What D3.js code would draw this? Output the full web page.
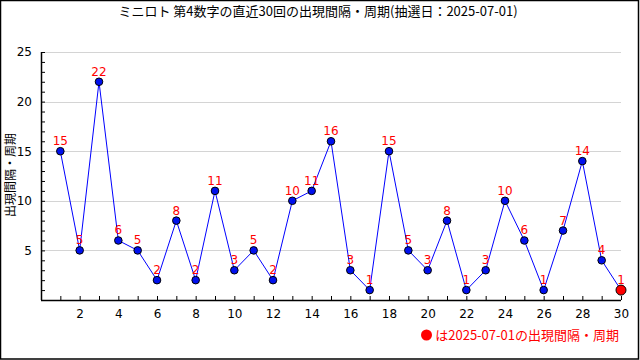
<!DOCTYPE html>
<html>
<head>
<meta charset="utf-8">
<script src="https://cdn.jsdelivr.net/npm/d3@7"></script>
<style>
body { margin: 0; background: #fff; }
#vis { width: 640px; height: 360px; }
text { font-family: "Noto Sans CJK JP", "DejaVu Sans", sans-serif; }
</style>
</head>
<body>
<div id="vis"></div>
<script>
var draws = d3.range(1, 31);
var gaps = [15, 5, 22, 6, 5, 2, 8, 2, 11, 3, 5, 2, 10, 11, 16, 3, 1, 15, 5, 3, 8, 1, 3, 10, 6, 1, 7, 14, 4, 1];
var x_ticks = [2, 4, 6, 8, 10, 12, 14, 16, 18, 20, 22, 24, 26, 28, 30];
var y_ticks = [5, 10, 15, 20, 25];
var title = 'ミニロト 第4数字の直近30回の出現間隔・周期(抽選日：2025-07-01)';
var y_label = '出現間隔・周期';
var note = 'は2025-07-01の出現間隔・周期';

var width = 640, height = 360;
var margin = { top: 52, bottom: 60, left: 41, right: 19 };

var svg = d3.select('#vis')
    .append('svg')
    .attr('width', width)
    .attr('height', height);

svg.append('rect')
    .attr('x', 0.5).attr('y', 0.5)
    .attr('width', 638).attr('height', 358.5)
    .attr('fill', '#fff')
    .attr('stroke', '#000')
    .attr('stroke-width', 1.5);

var x_scale = d3.scaleLinear()
    .domain([0, 30])
    .range([margin.left, width - margin.right]);

var y_scale = d3.scaleLinear()
    .domain([0, 25])
    .range([height - margin.bottom, margin.top]);

// grid
svg.append('g')
    .selectAll('line')
    .data(y_ticks)
    .enter()
    .append('line')
    .attr('x1', margin.left)
    .attr('x2', width - margin.right)
    .attr('y1', function(d) { return Math.round(y_scale(d)) + 0.5; })
    .attr('y2', function(d) { return Math.round(y_scale(d)) + 0.5; })
    .attr('stroke', '#d4d4d4');

// axes: ticks pointing inward
var y_axis = d3.axisLeft(y_scale)
    .tickValues(d3.range(1, 26))
    .tickSize(-4)
    .tickFormat(function(d) { return y_ticks.indexOf(d) >= 0 ? d : ''; })
    .tickPadding(9);

var x_axis = d3.axisBottom(x_scale)
    .tickValues(d3.range(1, 31))
    .tickSize(-4)
    .tickFormat(function(d) { return x_ticks.indexOf(d) >= 0 ? d : ''; })
    .tickPadding(9);

var gy = svg.append('g')
    .attr('transform', 'translate(' + margin.left + ',0)')
    .call(y_axis);

var gx = svg.append('g')
    .attr('transform', 'translate(0,' + (height - margin.bottom) + ')')
    .call(x_axis);

[gy, gx].forEach(function(g) {
    g.select('.domain').attr('stroke', '#000').attr('stroke-width', 1.5);
    g.selectAll('.tick line').attr('stroke', '#000');
    g.selectAll('.tick text')
        .attr('fill', '#000')
        .style('font-size', '12px')
        .style('font-family', '"DejaVu Sans", sans-serif');
});
gy.select('.domain').attr('d', 'M0.5,' + y_scale(25) + 'V' + y_scale(0));
gx.select('.domain').attr('d', 'M' + x_scale(0) + ',0.5H' + x_scale(30));

// line
var line = d3.line()
    .x(function(d, i) { return x_scale(draws[i]); })
    .y(function(d) { return y_scale(d); });

svg.append('path')
    .datum(gaps)
    .attr('d', line)
    .attr('fill', 'none')
    .attr('stroke', '#0000ff')
    .attr('stroke-width', 1);

svg.append('g')
    .selectAll('circle')
    .data(gaps)
    .enter()
    .append('circle')
    .attr('cx', function(d, i) { return x_scale(draws[i]); })
    .attr('cy', function(d) { return y_scale(d); })
    .attr('r', function(d, i) { return i === gaps.length - 1 ? 5 : 3.8; })
    .attr('fill', function(d, i) { return i === gaps.length - 1 ? '#ff0000' : '#0010ee'; })
    .attr('stroke', '#000')
    .attr('stroke-width', 1);

svg.append('g')
    .selectAll('text')
    .data(gaps)
    .enter()
    .append('text')
    .attr('x', function(d, i) { return x_scale(draws[i]); })
    .attr('y', function(d) { return y_scale(d) - 6; })
    .attr('text-anchor', 'middle')
    .attr('fill', '#ff0000')
    .style('font-size', '12px')
    .style('font-family', '"DejaVu Sans", sans-serif')
    .text(function(d) { return d; });

// title & labels
svg.append('text')
    .attr('x', 318)
    .attr('y', 16)
    .attr('text-anchor', 'middle')
    .style('font-size', '13px')
    .attr('fill', '#000')
    .text(title);

svg.append('text')
    .attr('transform', 'translate(15,175) rotate(-90)')
    .attr('text-anchor', 'middle')
    .style('font-size', '12px')
    .attr('fill', '#000')
    .text(y_label);

svg.append('circle')
    .attr('cx', 426.5)
    .attr('cy', 335)
    .attr('r', 5.5)
    .attr('fill', '#ff0000');

svg.append('text')
    .attr('x', 619)
    .attr('y', 340)
    .attr('text-anchor', 'end')
    .style('font-size', '13px')
    .attr('fill', '#ff0000')
    .text(note);
</script>
</body>
</html>
